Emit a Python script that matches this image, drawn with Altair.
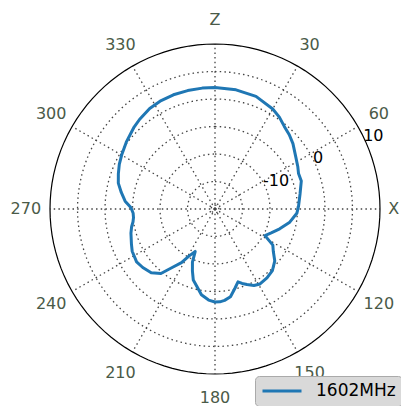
import altair as alt
import pandas as pd

# ---- data ----
angles_deg = [0, 10, 20, 30, 35, 40, 45, 50, 57, 63, 67, 72, 80, 88, 93, 100, 107, 113, 118,
              122, 126, 131, 137, 143, 149, 153, 157, 160, 162.5, 166, 170, 174, 177, 180,
              184, 189, 193, 197, 200, 203, 205, 207, 209, 212, 216, 220, 225, 231, 236,
              243, 247, 254, 258, 261, 264, 267, 271, 275, 280, 285, 290, 295, 300, 307,
              315, 320, 327, 333, 340, 347, 354, 360]
gain_db = [2.1, 2.0, 1.8, 1.0, 0.4, -0.4, -0.9, -1.5, -2.5, -3.1, -3.5, -3.5, -4.3, -4.8, -5.1,
           -6.2, -7.7, -8.9, -9.7, -7.6, -6.9, -5.6, -4.7, -4.3, -4.1, -4.4, -5.1, -5.6, -6.1,
           -5.1, -3.8, -3.3, -3.1, -3.1, -3.4, -4.2, -5.5, -6.5, -8.0, -9.5, -11.5, -10.9,
           -10.2, -8.5, -6.9, -4.7, -3.6, -3.1, -2.8, -3.1, -3.5, -4.1, -4.5, -4.9, -5.1,
           -5.1, -4.7, -3.6, -2.7, -1.8, -1.3, -0.8, -0.4, 0.2, 0.9, 1.3, 1.8, 2.0, 2.1, 2.1,
           2.1, 2.1]
series_name = "1602MHz"

r_min_db = -20
outer_db = 10
ring_db = [-19.3, -15, -10, -5, 0, 5]
spoke_deg = [0, 30, 60, 90, 120, 150, 180, 210, 240, 270, 300, 330]
angle_labels = ["Z", "30", "60", "X", "120", "150", "180", "210", "240", "270", "300", "330"]
radial_ticks = [-10, 0, 10]
radial_tick_labels = ["-10", "0", "10"]
circle_deg = list(range(0, 361, 3))

# ---- tables ----
curve_df = pd.DataFrame({"theta": angles_deg, "db": gain_db, "series": series_name})
rings_df = pd.DataFrame([{"ring": i, "db": d, "theta": t}
                         for i, d in enumerate(ring_db) for t in circle_deg])
outer_df = pd.DataFrame({"theta": circle_deg, "db": outer_db})
spokes_df = pd.DataFrame({"theta": spoke_deg, "db": outer_db})
alabels_df = pd.DataFrame({"theta": spoke_deg, "label": angle_labels})
alabels_main = alabels_df[alabels_df["label"] != "X"]
alabels_edge = alabels_df[alabels_df["label"] == "X"]
rlabels_df = pd.DataFrame({"db": radial_ticks, "label": radial_tick_labels})

R = outer_db - r_min_db
sc = alt.Scale(domain=[-R, R], nice=False, zero=False)
X = alt.X("x:Q", scale=sc, axis=None)
Y = alt.Y("y:Q", scale=sc, axis=None)


def polar(ch, rexpr="datum.db - (%d)" % r_min_db, texpr="datum.theta"):
    return ch.transform_calculate(
        rr=rexpr
    ).transform_calculate(
        x=f"datum.rr * sin(({texpr}) * PI / 180)",
        y=f"datum.rr * cos(({texpr}) * PI / 180)",
    )


grid_color = "#444444"
dash = [1.5, 3.2]
label_color = "#4a5a48"

rings = polar(alt.Chart(rings_df).mark_line(
    color=grid_color, strokeDash=dash, strokeWidth=1.3
)).encode(x=X, y=Y, detail="ring:N", order="theta:Q")

spokes = alt.Chart(spokes_df).transform_calculate(
    x="0", y="0",
    x2=f"{R} * sin(datum.theta * PI / 180)",
    y2=f"{R} * cos(datum.theta * PI / 180)",
).mark_rule(color=grid_color, strokeDash=dash, strokeWidth=1.3).encode(
    x=X, y=Y, x2="x2:Q", y2="y2:Q")

outer = polar(alt.Chart(outer_df).mark_line(color="black", strokeWidth=1.2)).encode(
    x=X, y=Y, order="theta:Q")

curve = polar(alt.Chart(curve_df).mark_line(strokeWidth=3, strokeJoin="round")).encode(
    x=X, y=Y, order="theta:Q",
    color=alt.Color("series:N", scale=alt.Scale(range=["#1f77b4"]),
                    legend=alt.Legend(
                        orient="none", legendX=205, legendY=332, title=None,
                        symbolType="stroke", symbolSize=1521, symbolStrokeWidth=3,
                        clipHeight=18,
                        labelFontSize=17, labelFont="DejaVu Sans", labelColor="black",
                        fillColor="#d9d9d9", strokeColor="#aaaaaa", cornerRadius=4,
                        padding=6, labelOffset=13)))

alabels = polar(alt.Chart(alabels_main).mark_text(
    fontSize=16, font="DejaVu Sans", color=label_color, align="center", baseline="middle"
), rexpr="34.4").encode(x=X, y=Y, text="label:N")

xlabel = polar(alt.Chart(alabels_edge).mark_text(
    fontSize=16, font="DejaVu Sans", color=label_color, align="right", baseline="middle",
    dx=-6
), rexpr="34.6").encode(x=X, y=Y, text="label:N")

rlabels = polar(alt.Chart(rlabels_df).mark_text(
    fontSize=16, font="DejaVu Sans", color="black", align="left", baseline="alphabetic",
    dx=-2
), texpr="65.5").encode(x=X, y=Y, text="label:N")

chart = alt.layer(rings, spokes, outer, curve, alabels, xlabel, rlabels).properties(
    width=330, height=330,
    padding={"left": 42, "top": 36, "right": 21, "bottom": 32},
    autosize=alt.AutoSizeParams(type="none"),
).configure_view(strokeWidth=0)

chart.save("out.html", embed_options={"renderer": "svg", "actions": False})
